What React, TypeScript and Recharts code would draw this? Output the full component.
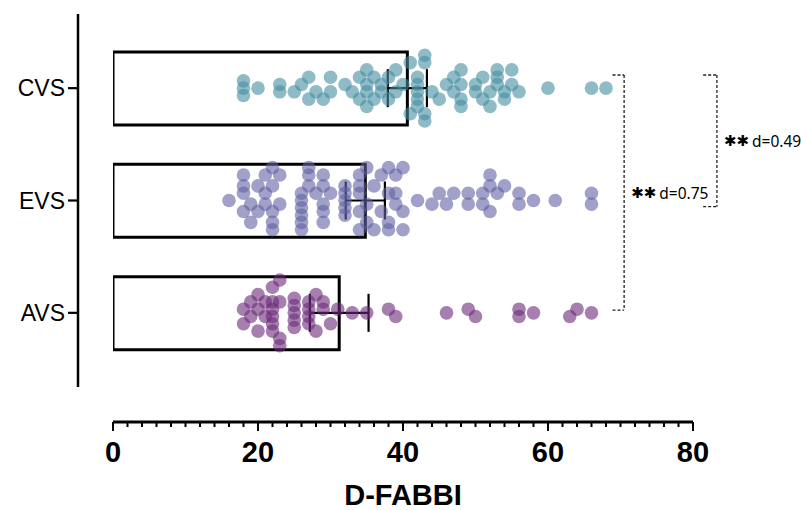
import React from 'react';
import {
  ComposedChart,
  Bar,
  Scatter,
  XAxis,
  YAxis,
  ErrorBar,
  ReferenceLine,
} from 'recharts';

// ---------- data ----------
const categories = ['CVS', 'EVS', 'AVS'];
const means = [40.6, 34.8, 31.2];
const errors = [2.7, 2.7, 4.05];

// individual scores (D-FABBI) and their beeswarm lane (negative = above centre)
const cvsValues = [
  18, 18, 18, 20, 23, 23, 25, 26, 27, 27, 28, 29, 30, 30, 32, 33, 34, 34,
  35, 35, 35, 35, 36, 36, 37, 37, 38, 38, 39, 39, 40, 41, 41,
  42, 42, 42, 42, 42, 43, 43, 43, 43, 44, 45, 46, 47, 47, 48, 48, 48, 48,
  50, 50, 51, 51, 52, 52, 53, 53, 53, 54, 54, 55, 55, 56, 60, 66, 68,
];
const cvsLanes = [
  -2, 0, 2, 0, -1, 1, 1, -1, -3, 3, 1, 3, -3, 1, -1, 1, -3, 3,
  -5, -1, 1, 5, -3, 3, -1, 1, -3, 3, -5, 1, -1, -7, 7,
  -3, -1, 1, 3, 5, -9, -7, 7, 9, 1, 3, -1, -3, 1, -5, -1, 3, 5,
  -1, 1, -3, 3, 1, 5, -5, -3, -1, 1, 3, -5, -1, 1, 0, 0, 0,
];

const evsValues = [
  16, 18, 18, 18, 18, 19, 19, 20, 20, 21, 21, 21, 22, 22, 22, 22, 22, 23, 23,
  26, 26, 26, 26, 26, 26, 27, 27, 27, 28, 29, 29, 29, 29, 29, 30,
  32, 32, 32, 32, 32, 34, 34, 34, 34, 34, 35, 35, 35, 36, 36, 37, 37,
  38, 38, 38, 38, 39, 39, 39, 40, 40, 40, 42, 44, 45, 46, 47, 49, 49,
  51, 51, 52, 52, 52, 53, 54, 56, 56, 58, 61, 66, 66,
];
const evsLanes = [
  0, -7, -4, -2, 3, 1, 6, -4, 3, -7, -2, 1, -9, -4, 3, 6, 8, -7, 1,
  -2, 0, 2, 4, 6, 8, -9, -7, -4, -2, -7, -4, 1, 3, 6, -2,
  -4, -2, 0, 2, 4, -7, -4, -2, 3, 8, -9, 1, 6, -4, 8, -7, 3,
  -9, -2, 6, 8, -7, -2, 1, -9, 3, 8, 0, 1, -2, 1, -2, -2, 1,
  -2, 1, -7, -4, 3, -2, -4, -2, 1, 0, 0, -2, 1,
];

const avsValues = [
  18, 18, 19, 19, 20, 20, 20, 21, 21, 22, 22, 22, 22, 22, 22, 23, 23, 23, 23,
  25, 25, 25, 25, 25, 27, 27, 27, 27, 28, 28, 29, 29, 30, 31, 33, 35,
  38, 39, 46, 49, 50, 56, 56, 58, 63, 64, 66,
];
const avsLanes = [
  -1, 3, -3, 1, -5, -1, 5, -3, 1, -7, -3, -1, 1, 3, 5, -9, -3, 7, 9,
  -4, -2, 0, 2, 4, -3, -1, 1, 3, -5, 5, -3, -1, 3, -1, 0, 0,
  -1, 1, 0, -1, 1, -1, 1, 0, 1, -1, 0,
];

const groupValues = [cvsValues, evsValues, avsValues];
const groupLanes = [cvsLanes, evsLanes, avsLanes];

const xTicks = [
  0, 2, 4, 6, 8, 10, 12, 14, 16, 18, 20, 22, 24, 26, 28, 30, 32, 34, 36, 38, 40,
  42, 44, 46, 48, 50, 52, 54, 56, 58, 60, 62, 64, 66, 68, 70, 72, 74, 76, 78, 80,
];
const majorTicks = [0, 20, 40, 60, 80];

// significance brackets (group index positions on the swarm axis, top = CVS = 0)
const brackets = [
  { label: 'd=0.75', x: 70.5, arm: 1.6, yTop: -0.117, yBottom: 1.975 },
  { label: 'd=0.49', x: 83.3, arm: 1.9, yTop: -0.117, yBottom: 1.055 },
];

// ---------- styling ----------
const COLORS = ['#448ea2', '#6161a3', '#6a2a7a'];
const DOT_R = 6.8;
const LANE = 0.0325; // one swarm lane in category units
const AXIS_DROP = 35;
const FONT = '"Liberation Sans", Arial, sans-serif';

const rows = categories.map((name, i) => ({ name, mean: means[i] }));

const groupPoints = groupValues.map((vals, i) =>
  vals.map((v, k) => ({ x: v, y: i + groupLanes[i][k] * LANE }))
);
const meanPoints = categories.map((_, i) => ({
  x: means[i],
  y: i,
  err: errors[i],
}));

const XTick = (props: any) => {
  const { x, y, payload } = props;
  const v = payload.value;
  const major = majorTicks.includes(v);
  const ay = y + AXIS_DROP;
  return (
    <g>
      <line x1={x} x2={x} y1={ay} y2={ay + (major ? 9 : 5)} stroke="#000" strokeWidth={2} />
      {major && (
        <text
          x={x}
          y={ay + 40}
          textAnchor="middle"
          fontFamily={FONT}
          fontWeight="bold"
          fontSize={29}
          fill="#000"
        >
          {v}
        </text>
      )}
    </g>
  );
};

const BracketLabel = (props: any) => {
  const vb = props.viewBox || {};
  const cx = (vb.x ?? 0) + 7;
  const cy = (vb.y ?? 0) + (vb.height ?? 0) / 2;
  return (
    <text x={cx} y={cy} dominantBaseline="central" fill="#000">
      <tspan fontFamily='"DejaVu Sans", sans-serif' fontWeight="bold" fontSize={15}>
        ✱✱
      </tspan>
      <tspan fontFamily='"Noto Sans", sans-serif' fontSize={15.5} dx={3}>
        {props.text}
      </tspan>
    </text>
  );
};

const makeDot = (color: string) => (p: any) =>
  <circle cx={p.cx} cy={p.cy} r={DOT_R} fill={color} fillOpacity={0.6} stroke="none" />;

export default function App() {
  const bracketLines: React.ReactNode[] = [];
  brackets.forEach((b, i) => {
    const common = {
      yAxisId: 'swarm',
      ifOverflow: 'visible' as const,
      stroke: '#222',
      strokeWidth: 1.3,
      strokeDasharray: '3 2',
    };
    bracketLines.push(
      <ReferenceLine
        key={`v${i}`}
        {...common}
        segment={[{ x: b.x, y: b.yTop }, { x: b.x, y: b.yBottom }]}
        label={<BracketLabel text={b.label} />}
      />
    );
    bracketLines.push(
      <ReferenceLine
        key={`t${i}`}
        {...common}
        segment={[{ x: b.x - b.arm, y: b.yTop }, { x: b.x, y: b.yTop }]}
      />
    );
    bracketLines.push(
      <ReferenceLine
        key={`b${i}`}
        {...common}
        segment={[{ x: b.x - b.arm, y: b.yBottom }, { x: b.x, y: b.yBottom }]}
      />
    );
  });

  return (
    <div style={{ width: 801, height: 510, background: '#fff' }}>
      <style>{'body{margin:0;}'}</style>
      <ComposedChart
        width={801}
        height={510}
        data={rows}
        layout="vertical"
        margin={{ top: 14, right: 108, bottom: 0, left: 0 }}
      >
        <XAxis
          type="number"
          domain={[0, 80]}
          allowDataOverflow
          ticks={xTicks}
          interval={0}
          tick={(p: any) => <XTick {...p} />}
          tickLine={false}
          tickSize={0}
          tickMargin={0}
          height={123}
          axisLine={{ stroke: '#000', strokeWidth: 3, transform: `translate(0,${AXIS_DROP})` }}
          label={{
            value: 'D-FABBI',
            position: 'insideBottom',
            offset: 5,
            style: { fontFamily: FONT, fontWeight: 'bold', fontSize: 29, fill: '#000' },
          }}
        />
        <YAxis
          yAxisId="cat"
          type="category"
          dataKey="name"
          width={113}
          padding={{ top: 18, bottom: 18 }}
          tickSize={10}
          tickMargin={38}
          axisLine={{ stroke: '#000', strokeWidth: 2.5, transform: 'translate(-35,0)' }}
          tickLine={{ stroke: '#000', strokeWidth: 2.2, transform: 'translate(-35,0)' }}
          tick={{ fontFamily: FONT, fontSize: 23, fill: '#000' }}
        />
        <YAxis
          yAxisId="swarm"
          type="number"
          dataKey="y"
          domain={[-0.5, 2.5]}
          allowDataOverflow
          padding={{ top: 18, bottom: 18 }}
          hide
        />
        <Bar
          yAxisId="cat"
          dataKey="mean"
          barSize={73}
          fill="none"
          stroke="#000"
          strokeWidth={3}
          isAnimationActive={false}
        />
        {groupPoints.map((pts, i) => (
          <Scatter
            key={categories[i]}
            yAxisId="swarm"
            data={pts}
            dataKey="x"
            shape={makeDot(COLORS[i])}
            isAnimationActive={false}
          />
        ))}
        <Scatter
          yAxisId="swarm"
          data={meanPoints}
          dataKey="x"
          shape={() => <g />}
          isAnimationActive={false}
        >
          <ErrorBar dataKey="err" direction="x" width={19} stroke="#000" strokeWidth={2.2} />
        </Scatter>
        {bracketLines}
      </ComposedChart>
    </div>
  );
}
